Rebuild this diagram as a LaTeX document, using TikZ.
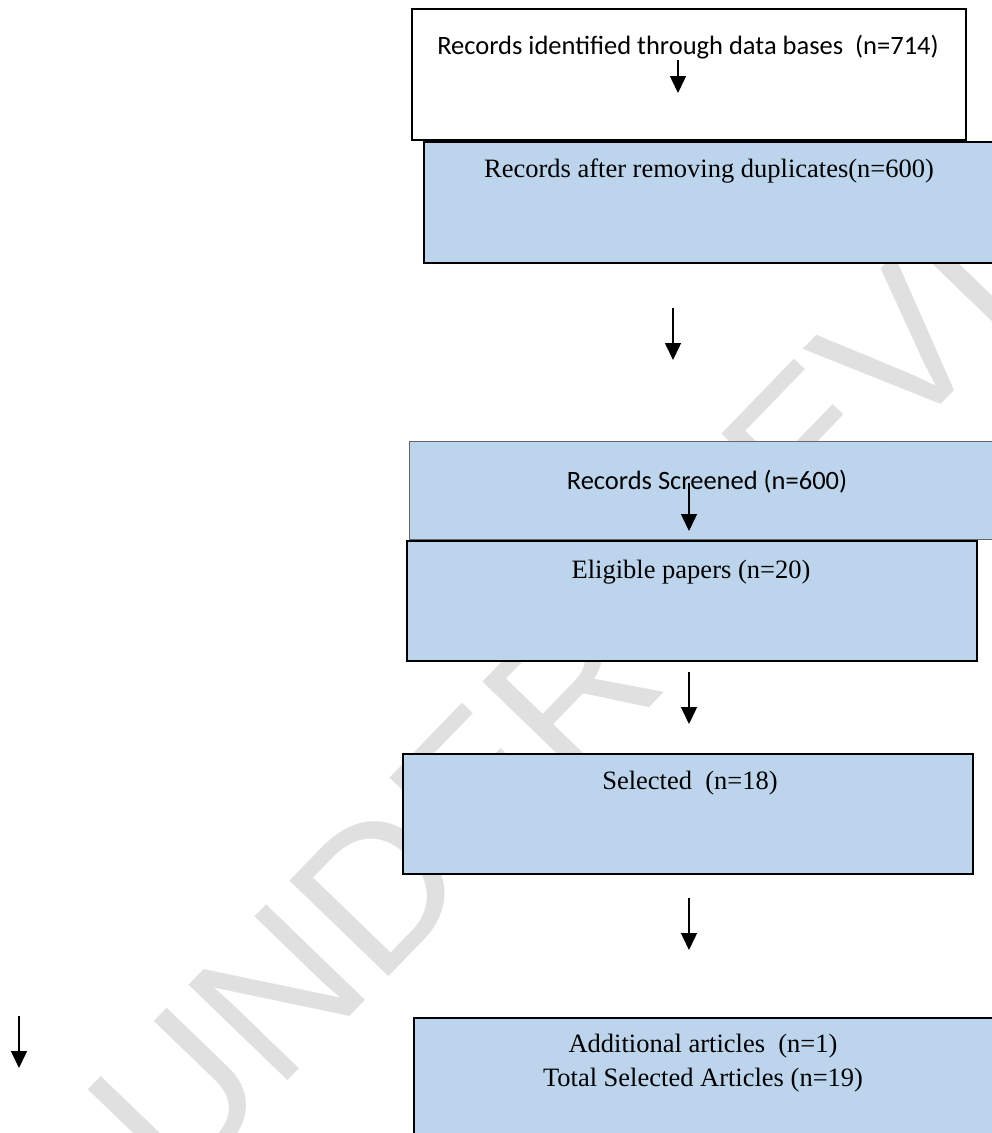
\documentclass[tikz,border=0pt]{standalone}
\usepackage{fontspec}
\setmainfont{Liberation Serif}
\newfontfamily\calibri{Carlito}
\newfontfamily\wmfont{Liberation Sans}
\usepackage{tikz}
\usetikzlibrary{arrows.meta, positioning}
\definecolor{boxblue}{RGB}{189,213,236}
\definecolor{wmgray}{RGB}{224,224,224}
\tikzset{
  flowbox/.style={
    rectangle, draw=black, line width=1.5pt, fill=boxblue,
    anchor=north west, inner sep=0pt
  },
  plainbox/.style={flowbox, fill=white},
  sanstext/.style={anchor=base, inner sep=0pt, font=\calibri\fontsize{26.5}{32}\selectfont},
  seriftext/.style={anchor=base, inner sep=0pt, font=\fontsize{26.5}{32}\selectfont},
  flowarrow/.style={-{Triangle[width=16pt,length=17pt]}, line width=1.5pt},
  watermark/.style={inner sep=0pt, text=wmgray, font=\wmfont\fontsize{200}{200}\selectfont},
}

\begin{document}
\begin{tikzpicture}[x=1pt, y=-1pt]
  \useasboundingbox (0,0) rectangle (992,1133);
  \clip (0,0) rectangle (992,1133);

  \node[watermark, rotate=46] (wmark) at (668,590) {UNDER REVIEW};

  \node[plainbox, minimum width=554pt, minimum height=131pt] (ident) at (411,8) {};
  \node[flowbox, minimum width=620pt, minimum height=121pt] (dupl) at (423,141) {};
  \node[flowbox, draw=black!60, line width=1.1pt, minimum width=620pt, minimum height=98pt] (screen) at (409,441) {};
  \node[flowbox, minimum width=570pt, minimum height=120pt] (elig) at (406,540) {};
  \node[flowbox, minimum width=570pt, minimum height=120pt] (selec) at (402,753) {};
  \node[flowbox, minimum width=620pt, minimum height=160pt] (total) at (413,1017) {};

  \node[sanstext] (identtxt) at (688,54) {Records identified through data bases\ \ (n=714)};
  \node[seriftext] (dupltxt) at (709,177) {Records after removing duplicates(n=600)};
  \node[sanstext] (screentxt) at (707,489) {Records Screened (n=600)};
  \node[seriftext] (eligtxt) at (691,578) {Eligible papers (n=20)};
  \node[seriftext] (selectxt) at (690,789) {Selected\ \ (n=18)};
  \node[seriftext] (addtxt) at (703,1052) {Additional articles\ \ (n=1)};
  \node[seriftext] (totaltxt) at (703,1086) {Total Selected Articles (n=19)};

  \coordinate (a1s) at (678,60);   \coordinate (a1e) at (678,93);
  \coordinate (a2s) at (673,308);  \coordinate (a2e) at (673,360);
  \coordinate (a3s) at (689,483);  \coordinate (a3e) at (689,531);
  \coordinate (a4s) at (689,672);  \coordinate (a4e) at (689,724);
  \coordinate (a5s) at (689,898);  \coordinate (a5e) at (689,950);
  \coordinate (a6s) at (19,1016);  \coordinate (a6e) at (19,1068);

  \draw[flowarrow] (a1s) -- (a1e);
  \draw[flowarrow] (a2s) -- (a2e);
  \draw[flowarrow] (a3s) -- (a3e);
  \draw[flowarrow] (a4s) -- (a4e);
  \draw[flowarrow] (a5s) -- (a5e);
  \draw[flowarrow] (a6s) -- (a6e);
\end{tikzpicture}
\end{document}
